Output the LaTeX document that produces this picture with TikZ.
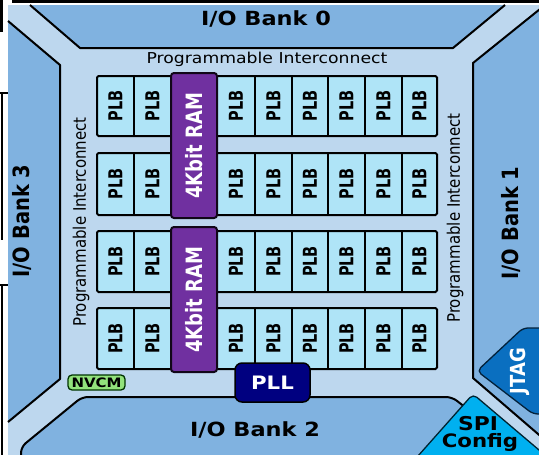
\documentclass[tikz,border=0pt]{standalone}
\usepackage{fontspec}
\setmainfont{DejaVu Sans}
\definecolor{ic}{HTML}{BDD7EE}
\definecolor{bank}{HTML}{80B2E0}
\definecolor{plb}{HTML}{AFE4F7}
\definecolor{ram}{HTML}{7030A0}
\definecolor{jtag}{HTML}{0A6FC0}
\definecolor{spi}{HTML}{00B0F0}
\definecolor{pll}{HTML}{000080}
\definecolor{nvcm}{HTML}{92E27C}
\newcommand\hs[1]{\scalebox{1.15}[1]{#1}}
\newcommand\vs[1]{\scalebox{1}[1.15]{#1}}
\newcommand\plbstretch[1]{\scalebox{1}[1.32]{#1}}
\tikzset{
  edge/.style={draw=black, line width=2pt, line join=round},
  rowbox/.style={draw=black, fill=plb, line width=2pt, rounded corners=1.5pt},
  sepline/.style={draw=black, line width=1.4pt},
  rambox/.style={draw=black!85!ram, fill=ram, line width=2pt, rounded corners=3pt},
  banktext/.style={inner sep=0pt, font=\bfseries\fontsize{19.5}{20}\selectfont},
  ictext/.style={inner sep=0pt, font=\fontsize{15}{16}\selectfont},
  plbtext/.style={inner sep=0pt, rotate=90, font=\bfseries\fontsize{14.5}{15}\selectfont},
}
\begin{document}
\begin{tikzpicture}[x=1pt,y=-1pt]
\useasboundingbox (0,0) rectangle (539,455);
\fill[white] (0,0) rectangle (539,455);
% screenshot edge artefacts
\fill[black] (12,0) rectangle (539,3);
\fill[black] (0,0) rectangle (3,32);
\draw[black, line width=1.5pt] (2,93) -- (2,240) (0,93) -- (10,93);
\draw[black, line width=1.5pt] (2,285) -- (2,455) (0,285) -- (10,285);
% interconnect background
\fill[ic] (8,5) rectangle (539,455);
% I/O banks
\fill[bank] (30,5) -- (80,48) -- (453,48) -- (505,5) -- cycle;
\draw[edge] (30,5) -- (80,48) -- (453,48) -- (505,5);
\fill[bank] (8,21) -- (60,65) -- (60,379) -- (8,422) -- cycle;
\draw[edge] (8,21) -- (60,65) -- (60,379) -- (8,422);
\fill[bank] (545,5) -- (473,63) -- (473,378) -- (545,440) -- cycle;
\draw[edge] (545,5) -- (473,63) -- (473,378) -- (545,440);
\fill[bank, rounded corners=6pt] (21,470) -- (21,447) -- (82,397) -- (452,397) -- (470,411) -- (470,470) -- cycle;
\draw[edge, rounded corners=6pt] (21,470) -- (21,447) -- (82,397) -- (452,397) -- (470,411);
% JTAG
\filldraw[fill=jtag, draw=black!70!jtag, line width=1.3pt, rounded corners=5pt]
  (477,371) -- (523,328) -- (560,328) -- (560,414) -- (533,414) -- cycle;
\node[inner sep=0pt, rotate=90, text=white, font=\bfseries\fontsize{18}{18}\selectfont] (jtag) at (520,371) {\vs{JTAG}};
% SPI Config
\filldraw[fill=spi, draw=black!80!spi, line width=1.3pt, rounded corners=5pt]
  (410,465) -- (473,394) -- (552,461) -- (552,470) -- (410,470) -- cycle;
\node[inner sep=0pt, anchor=base, font=\bfseries\fontsize{19}{19}\selectfont] (spi) at (478,430) {\hs{SPI}};
\node[inner sep=0pt, anchor=base, font=\bfseries\fontsize{18.5}{19}\selectfont] (config) at (480,447) {\hs{Config}};
% bank labels
\node[banktext] (bank0) at (266,19) {\hs{I/O Bank 0}};
\node[banktext, rotate=90] (bank3) at (22,221) {\vs{I/O Bank 3}};
\node[banktext, rotate=90] (bank1) at (511,223) {\vs{I/O Bank 1}};
\node[banktext] (bank2) at (255,430) {\hs{I/O Bank 2}};
% interconnect labels
\node[ictext] (ictop) at (267,59.5) {\hs{Programmable Interconnect}};
\node[ictext, rotate=90] (icleft) at (81,222) {\vs{Programmable Interconnect}};
\node[ictext, rotate=90] (icright) at (455,218) {\vs{Programmable Interconnect}};
% PLB rows
\foreach \t/\b [count=\r] in {76/136,153/215,231/292,308/369} {
  \draw[rowbox] (97,\t) rectangle (437,\b);
  \foreach \xx in {134,255,292,328,365,402} {
    \draw[sepline] (\xx,\t) -- (\xx,\b);
  }
  \foreach \a/\c [count=\k] in {97/134,134/171,217/255,255/292,292/328,328/365,365/402,402/437} {
    \node[plbtext] (plb-\r-\k) at ({(\a+\c)/2},{(\t+\b)/2}) {\plbstretch{PLB}};
  }
}
% RAM blocks
\draw[rambox] (171,73) rectangle (217,218);
\draw[rambox] (171,227) rectangle (217,372);
\node[plbtext, text=white, font=\bfseries\fontsize{18}{18}\selectfont] (ram1) at (194,145.5) {\scalebox{1}[1.25]{4Kbit RAM}};
\node[plbtext, text=white, font=\bfseries\fontsize{18}{18}\selectfont] (ram2) at (194,299.5) {\scalebox{1}[1.25]{4Kbit RAM}};
% NVCM
\node[draw=black!80!green, fill=nvcm, line width=1.3pt, rounded corners=4pt,
  minimum width=57pt, minimum height=15pt, inner sep=0pt,
  font=\bfseries\fontsize{13}{13}\selectfont] (nvcm) at (96.5,382.5) {\hs{NVCM}};
% PLL
\node[draw=black, fill=pll, text=white, line width=1.5pt, rounded corners=7pt,
  minimum width=75pt, minimum height=39pt, inner sep=0pt,
  font=\bfseries\fontsize{18.5}{18.5}\selectfont] (pll) at (272.5,382.5) {\hs{PLL}};
\end{tikzpicture}
\end{document}
